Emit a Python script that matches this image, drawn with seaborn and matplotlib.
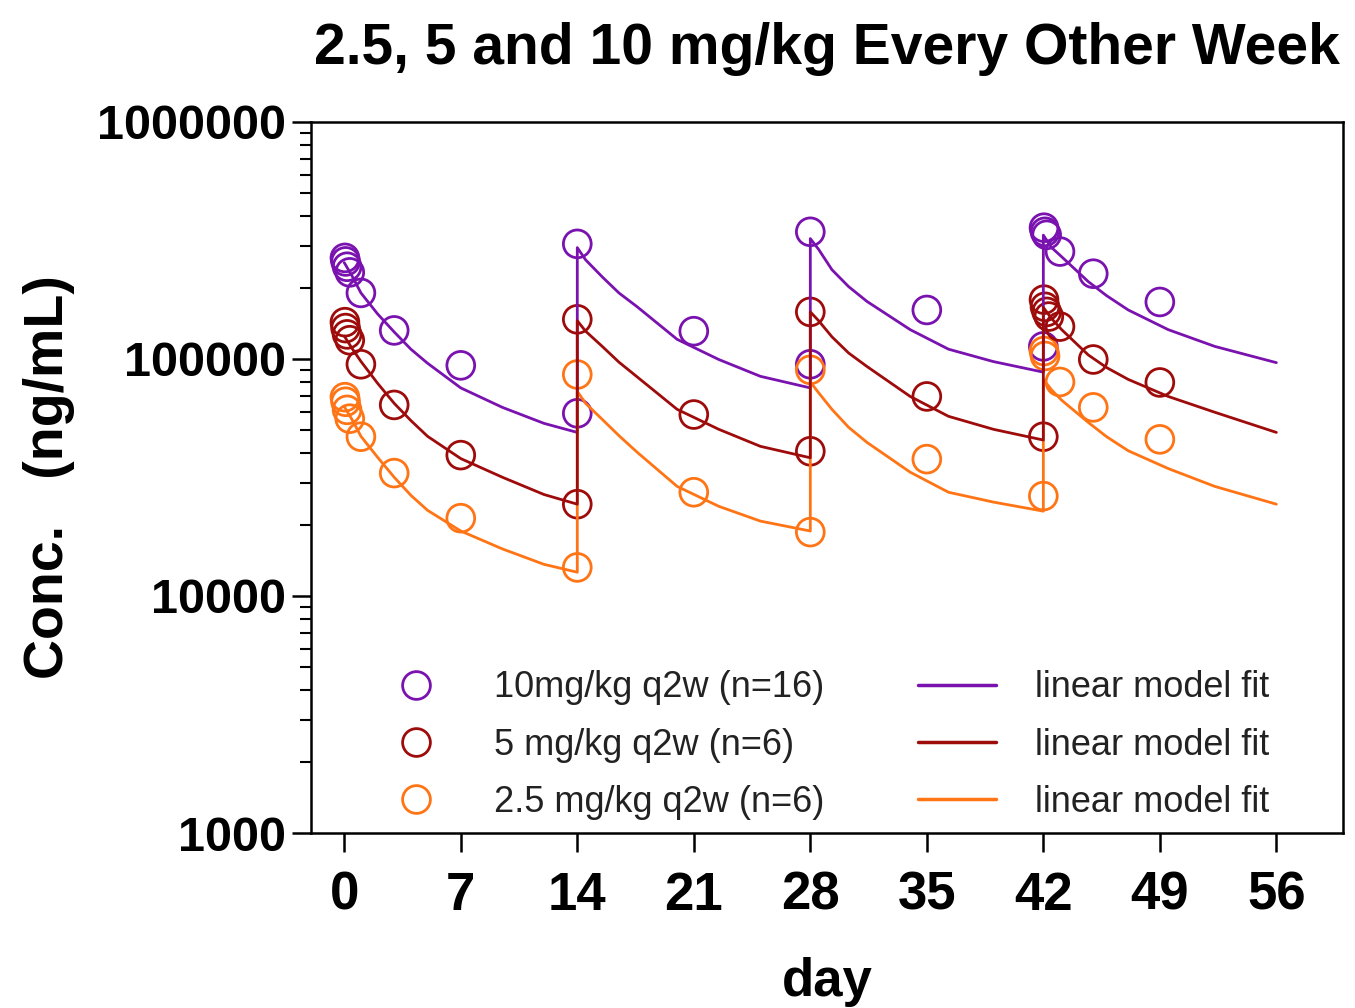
import matplotlib
matplotlib.use("Agg")
import matplotlib.pyplot as plt
from matplotlib import font_manager
from matplotlib.lines import Line2D
from matplotlib.ticker import FixedLocator, FixedFormatter, LogLocator, NullFormatter
import seaborn as sns

days_10 = [0.04, 0.08, 0.17, 0.33, 1, 3, 7, 14, 14, 21, 28, 28, 35, 42, 42.04, 42.1, 42.2, 43, 45, 49]
conc_10 = [267000, 258000, 245000, 232000, 190000, 132000, 94000, 59000, 306000, 131000,
           95000, 344000, 161000, 113000, 358000, 344000, 334000, 284000, 229000, 174000]

days_5 = [0.04, 0.08, 0.17, 0.33, 1, 3, 7, 14, 14, 21, 28, 28, 35, 42, 42.04, 42.1, 42.2, 42.33, 43, 45, 49]
conc_5 = [143000, 135000, 127000, 120000, 95000, 64000, 39300, 24400, 147000, 58300,
          40800, 158000, 69500, 47000, 178000, 166000, 158000, 151000, 137000, 99500, 79600]

days_25 = [0.04, 0.08, 0.17, 0.33, 1, 3, 7, 14, 14, 21, 28, 28, 35, 42, 42.04, 42.1, 43, 45, 49]
conc_25 = [69000, 66000, 61000, 56000, 47000, 33000, 21300, 13200, 86000, 27400,
           18600, 90000, 37800, 26400, 108000, 103000, 80000, 62500, 45800]

# ---- linear model fit curves ----
fit_days = [0, 0.5, 1, 2, 3, 4, 5, 7, 9.5, 12, 14,
            14, 14.5, 15.5, 16.5, 17.6, 20, 22.5, 25, 28,
            28, 28.5, 29.3, 30.3, 31.4, 34, 36.3, 39, 42,
            42, 42.5, 43.1, 44.7, 45.8, 47.1, 49.5, 52.3, 56]
fit_10 = [255000, 222000, 190000, 155000, 130000, 110000, 96000, 75500, 62500, 53500, 49000,
          295000, 262000, 222000, 190000, 166000, 121000, 99500, 84500, 75500,
          322000, 290000, 238000, 202000, 175000, 133000, 110000, 97500, 88000,
          333000, 295000, 270000, 212000, 185000, 161000, 133000, 113000, 96500]
fit_5 = [125000, 110000, 97700, 79000, 65000, 55000, 47200, 38000, 31700, 26800, 24400,
         145000, 131000, 113000, 97000, 84000, 61300, 50500, 42800, 38300,
         158000, 145000, 124000, 106000, 93000, 69500, 57300, 50500, 45500,
         165000, 148000, 133000, 104000, 92000, 82000, 69500, 59600, 49000]
fit_25 = [63000, 55000, 47200, 38500, 31700, 26600, 23000, 18800, 15800, 13600, 12600,
          73000, 65000, 55600, 47500, 40400, 29000, 23900, 20700, 18800,
          80000, 72000, 61300, 51500, 44500, 33300, 27400, 24900, 22800,
          82000, 74000, 67000, 54000, 47000, 41000, 34500, 29000, 24400]

labels_obs = ["10mg/kg q2w (n=16)", "5 mg/kg q2w (n=6)", "2.5 mg/kg q2w (n=6)"]
label_fit = "linear model fit"
x_ticks = [0, 7, 14, 21, 28, 35, 42, 49, 56]
y_ticks = [1000, 10000, 100000, 1000000]

c10, c5, c25 = "#7A12B0", "#9E0B0B", "#FF7414"

sns.set_theme(style="ticks")
names = {f.name for f in font_manager.fontManager.ttflist}
base = "Liberation Sans" if "Liberation Sans" in names else "DejaVu Sans"
narrow = "Liberation Sans Narrow" if "Liberation Sans Narrow" in names else base
plt.rcParams["font.family"] = [base, "DejaVu Sans"]
plt.rcParams.update({"text.color": "black", "axes.labelcolor": "black",
                     "xtick.color": "black", "ytick.color": "black"})

fig = plt.figure(figsize=(13.55, 10.08), dpi=100)
ax = fig.add_axes([0.2295, 0.1736, 0.7616, 0.7054])
ax.set_yscale("log")

for d, c, col in [(days_10, conc_10, c10), (days_25, conc_25, c25), (days_5, conc_5, c5)]:
    sns.scatterplot(x=d, y=c, ax=ax, marker="o", s=400, color=col,
                    facecolor="none", edgecolor=col, linewidth=2.0, zorder=2)

for y, col in [(fit_10, c10), (fit_25, c25), (fit_5, c5)]:
    sns.lineplot(x=fit_days, y=y, ax=ax, estimator=None, sort=False,
                 color=col, linewidth=2.0, zorder=3)

ax.set_xlim(-2, 60)
ax.set_ylim(1000, 1000000)
ax.xaxis.set_major_locator(FixedLocator(x_ticks))
ax.yaxis.set_major_locator(FixedLocator(y_ticks))
ax.yaxis.set_major_formatter(FixedFormatter([str(v) for v in y_ticks]))
ax.yaxis.set_minor_locator(LogLocator(base=10, subs=range(2, 10)))
ax.yaxis.set_minor_formatter(NullFormatter())

for s in ax.spines.values():
    s.set_linewidth(1.8)
    s.set_color("black")
ax.tick_params(axis="x", which="major", length=14, width=1.8, pad=13, labelsize=38)
ax.tick_params(axis="y", which="major", length=14, width=1.8, pad=4, labelsize=35)
ax.tick_params(axis="y", which="minor", length=8, width=1.5)
for t in ax.get_xticklabels():
    t.set_fontweight("bold")
    t.set_family([narrow, "DejaVu Sans"])
for t in ax.get_yticklabels():
    t.set_fontweight("bold")

ax.set_title("2.5, 5 and 10 mg/kg Every Other Week", fontsize=41, fontweight="bold", pad=42)
ax.set_xlabel("day", fontsize=38, fontweight="bold", labelpad=26)
ax.set_ylabel("Conc.   (ng/mL)", fontsize=40, fontweight="bold", labelpad=16)

handles = [Line2D([], [], linestyle="none", marker="o", markersize=20, markerfacecolor="none",
                  markeredgecolor=col, markeredgewidth=2.0) for col in (c10, c5, c25)]
handles += [Line2D([], [], color=col, linewidth=2.5) for col in (c10, c5, c25)]
leg = ax.legend(handles, labels_obs + [label_fit] * 3, ncol=2, frameon=False,
                loc="lower left", bbox_to_anchor=(0.05, -0.002), borderaxespad=0,
                fontsize=26, handlelength=2.14, handletextpad=1.1, columnspacing=2.6,
                labelspacing=0.62)
for t in leg.get_texts():
    t.set_color("#222222")

fig.savefig("out.png", dpi=100)
